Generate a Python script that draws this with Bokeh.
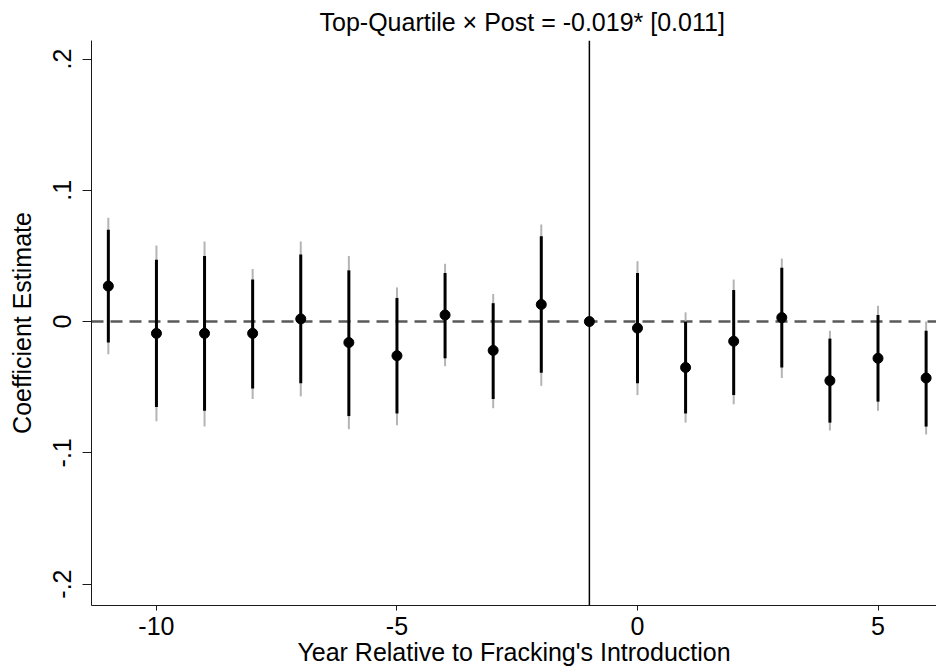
from bokeh.plotting import figure
from bokeh.models import Span, FixedTicker, Range1d, ColumnDataSource
from bokeh.embed import file_html
from bokeh.resources import INLINE

# ---- data ----
years = [-11, -10, -9, -8, -7, -6, -5, -4, -3, -2, -1, 0, 1, 2, 3, 4, 5, 6]
coef = [0.027, -0.009, -0.009, -0.009, 0.002, -0.016, -0.026, 0.005, -0.022, 0.013,
        0.000, -0.005, -0.035, -0.015, 0.003, -0.045, -0.028, -0.043]
hi90 = [0.070, 0.047, 0.050, 0.032, 0.051, 0.039, 0.018, 0.037, 0.014, 0.065,
        None, 0.037, 0.000, 0.024, 0.041, -0.013, 0.005, -0.007]
lo90 = [-0.016, -0.065, -0.068, -0.051, -0.047, -0.072, -0.070, -0.028, -0.059, -0.039,
        None, -0.047, -0.070, -0.056, -0.035, -0.077, -0.061, -0.080]
hi95 = [0.079, 0.058, 0.061, 0.040, 0.061, 0.050, 0.026, 0.044, 0.021, 0.074,
        None, 0.046, 0.007, 0.032, 0.048, -0.007, 0.012, 0.000]
lo95 = [-0.025, -0.076, -0.080, -0.059, -0.057, -0.082, -0.079, -0.034, -0.066, -0.049,
        None, -0.056, -0.077, -0.063, -0.043, -0.083, -0.068, -0.086]
ref_year = -1
x_ticks = [-10, -5, 0, 5]
x_tick_labels = ["-10", "-5", "0", "5"]
y_ticks = [-0.2, -0.1, 0.0, 0.1, 0.2]
y_tick_labels = ["-.2", "-.1", "0", ".1", ".2"]
title_text = "Top-Quartile \u00d7 Post = -0.019* [0.011]"
x_label = "Year Relative to Fracking's Introduction"
y_label = "Coefficient Estimate"

FONT = "Liberation Sans"
FS = "25px"

idx = [i for i, v in enumerate(hi90) if v is not None]
ci_src = ColumnDataSource(dict(
    x=[years[i] for i in idx],
    lo90=[lo90[i] for i in idx], hi90=[hi90[i] for i in idx],
    lo95=[lo95[i] for i in idx], hi95=[hi95[i] for i in idx],
))
pt_src = ColumnDataSource(dict(x=years, y=coef))

p = figure(width=936, height=668, output_backend="svg", toolbar_location=None,
           x_range=Range1d(-11.35, 6.216), y_range=Range1d(-0.2163, 0.2141),
           min_border_left=91, min_border_right=0, min_border_top=40,
           min_border_bottom=62, title=title_text)
p.outline_line_color = None
p.xgrid.visible = False
p.ygrid.visible = False
p.background_fill_color = "white"
p.border_fill_color = "white"

p.title.text_font = FONT
p.title.text_font_size = FS
p.title.text_font_style = "normal"
p.title.text_color = "black"
p.title.align = "left"
p.title.offset = 228
p.title.standoff = 9

for ax in (p.xaxis[0], p.yaxis[0]):
    ax.axis_line_color = "#1a1a1a"
    ax.axis_line_width = 1
    ax.major_tick_line_color = "#1a1a1a"
    ax.major_tick_in = 0
    ax.minor_tick_line_color = None
    ax.major_label_text_font = FONT
    ax.major_label_text_font_size = FS
    ax.major_label_text_color = "black"
    ax.axis_label_text_font = FONT
    ax.axis_label_text_font_size = FS
    ax.axis_label_text_font_style = "normal"
    ax.axis_label_text_color = "black"

p.xaxis.ticker = FixedTicker(ticks=x_ticks)
p.xaxis.major_label_overrides = dict(zip(x_ticks, x_tick_labels))
p.xaxis.major_tick_out = 5
p.xaxis.major_label_standoff = 6
p.xaxis.axis_label = x_label
p.xaxis.axis_label_standoff = 0

p.yaxis.ticker = FixedTicker(ticks=y_ticks)
p.yaxis.major_label_overrides = dict(zip(y_ticks, y_tick_labels))
p.yaxis.major_label_orientation = "vertical"
p.yaxis.major_tick_out = 9
p.yaxis.major_label_standoff = 11
p.yaxis.axis_label = y_label
p.yaxis.axis_label_standoff = 15

zero = Span(location=0, dimension="width", line_color="#5a5a5a", line_width=2.5,
            line_dash="12 7", level="underlay")
vline = Span(location=ref_year, dimension="height", line_color="black",
             line_width=1.5, level="underlay")
p.add_layout(zero)
p.add_layout(vline)

p.segment(x0="x", y0="lo95", x1="x", y1="hi95", source=ci_src,
          line_color="#b4b4b4", line_width=2)
p.segment(x0="x", y0="lo90", x1="x", y1="hi90", source=ci_src,
          line_color="black", line_width=3)
p.scatter(x="x", y="y", source=pt_src, size=10, fill_color="black",
          line_color="black")

open("out.html", "w").write(file_html(p, INLINE))
